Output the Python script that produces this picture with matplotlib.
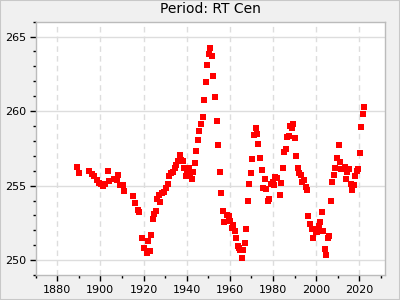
import numpy as np
import matplotlib
matplotlib.use("Agg")
import matplotlib.pyplot as plt
from matplotlib.ticker import MultipleLocator
from matplotlib.patches import Rectangle

# epoch of each measured cycle (year) and the period (days)
years = [
    1889.2, 1890.1, 1894.7, 1896.1, 1897.1, 1898.5, 1899.4, 1900.2, 1901.2, 1902.2,
    1903.6, 1904.2, 1906.2, 1907.7, 1908.2, 1909.1, 1910.5, 1911.0, 1915.1, 1916.1,
    1917.3, 1917.9, 1919.3, 1920.2, 1921.6, 1922.1, 1923.0, 1923.5, 1924.4, 1924.9,
    1925.8, 1926.3, 1927.2, 1927.7, 1928.6, 1929.5, 1930.3, 1931.4, 1931.8, 1932.8,
    1933.7, 1934.6, 1935.1, 1936.0, 1936.9, 1937.6, 1938.2, 1938.8, 1939.7, 1940.3,
    1941.0, 1941.4, 1942.5, 1943.0, 1943.9, 1944.4, 1945.3, 1945.7, 1946.7, 1947.6,
    1948.1, 1949.0, 1949.5, 1950.4, 1950.8, 1951.8, 1952.2, 1953.2, 1954.1, 1954.5,
    1955.5, 1955.9, 1956.9, 1957.3, 1958.7, 1959.6, 1960.1, 1961.0, 1961.5, 1962.4,
    1962.9, 1963.8, 1964.3, 1964.7, 1965.7, 1966.1, 1967.1, 1967.5, 1968.5, 1968.9,
    1969.8, 1970.3, 1971.2, 1972.2, 1972.6, 1973.1, 1974.0, 1974.9, 1975.4, 1976.3,
    1976.8, 1977.7, 1978.2, 1979.1, 1980.0, 1980.5, 1981.0, 1981.9, 1983.3, 1983.8,
    1984.7, 1985.1, 1986.1, 1986.5, 1987.5, 1987.9, 1988.9, 1989.3, 1990.2, 1990.7,
    1991.6, 1992.1, 1993.0, 1993.5, 1994.4, 1995.3, 1995.8, 1996.3, 1997.2, 1998.1,
    1998.6, 1999.0, 2000.0, 2000.4, 2001.4, 2001.8, 2002.8, 2003.2, 2004.2, 2004.6,
    2005.5, 2006.0, 2006.9, 2007.4, 2008.3, 2008.8, 2009.7, 2010.6, 2011.1, 2011.6,
    2012.5, 2013.4, 2013.9, 2014.4, 2015.3, 2016.2, 2016.7, 2017.6, 2018.1, 2019.0,
    2019.5, 2020.4, 2020.8, 2021.8, 2022.2,
]
periods = [
    256.25, 255.87, 255.96, 255.76, 255.65, 255.38, 255.16, 255.08, 255.00, 255.09,
    255.96, 255.30, 255.46, 255.41, 255.74, 255.02, 255.07, 254.62, 254.33, 253.86,
    253.35, 253.20, 251.52, 250.85, 250.45, 251.27, 250.60, 251.72, 252.79, 253.13,
    253.33, 254.07, 254.40, 253.93, 254.51, 254.55, 254.84, 255.14, 255.67, 255.83,
    255.89, 256.16, 256.41, 256.68, 257.05, 256.72, 256.68, 256.20, 255.66, 255.78,
    256.16, 255.80, 255.43, 255.94, 256.54, 257.35, 258.08, 258.68, 259.15, 259.62,
    260.76, 261.97, 263.10, 263.84, 264.25, 263.71, 262.37, 260.96, 259.36, 257.75,
    255.94, 254.53, 253.33, 252.59, 253.06, 252.93, 252.66, 252.19, 252.39, 251.99,
    251.52, 250.98, 250.85, 250.65, 250.18, 250.65, 251.12, 252.06, 254.00, 255.14,
    255.87, 256.81, 258.42, 258.89, 258.49, 257.82, 256.88, 256.08, 254.87, 255.47,
    254.80, 254.00, 254.07, 255.14, 255.27, 255.07, 255.60, 255.54, 254.40, 255.20,
    256.20, 257.28, 257.48, 258.28, 258.35, 259.02, 258.89, 259.16, 258.22, 257.01,
    256.21, 255.87, 255.74, 255.27, 255.40, 254.94, 254.74, 252.93, 252.46, 252.06,
    251.52, 252.06, 251.92, 251.86, 252.32, 252.59, 253.26, 251.99, 250.78, 250.38,
    251.52, 251.59, 254.00, 255.27, 255.74, 256.21, 256.88, 257.75, 256.61, 256.14,
    256.14, 256.28, 255.47, 255.94, 256.14, 255.14, 254.74, 255.07, 255.67, 256.01,
    256.14, 257.21, 258.96, 259.83, 260.30,
]

fig = plt.figure(figsize=(4, 3), dpi=100, facecolor="#f0f0f0")
fig.patches.append(Rectangle((0, 0), 1, 1, transform=fig.transFigure,
                             fill=False, edgecolor="#c8c8c8", linewidth=1.5))
ax = fig.add_axes([0.089, 0.083, 0.874, 0.845])
ax.set_facecolor("white")

ax.plot(years, periods, linestyle="none", marker="s", markersize=4.3,
        color="#ff0000", markeredgewidth=0)

ax.set_xlim(1870, 2032)
ax.set_ylim(249, 266)
ax.xaxis.set_major_locator(MultipleLocator(20))
ax.xaxis.set_minor_locator(MultipleLocator(10))
ax.yaxis.set_major_locator(MultipleLocator(5))
ax.yaxis.set_minor_locator(MultipleLocator(1))

ax.grid(axis="x", which="major", color="#dddddd", linestyle=(0, (4, 3)), linewidth=1)
ax.grid(axis="y", which="major", color="#dddddd", linestyle="-", linewidth=1)
ax.set_axisbelow(True)

for s in ax.spines.values():
    s.set_color("#bbbbbb")
    s.set_linewidth(1)

ax.tick_params(which="major", length=4, width=1, color="black", labelsize=8, pad=3)
ax.tick_params(which="minor", length=2, width=1, color="black")

ax.set_title("Period: RT Cen", fontsize=10, pad=6)

fig.savefig("out.png", dpi=100, facecolor=fig.get_facecolor())
